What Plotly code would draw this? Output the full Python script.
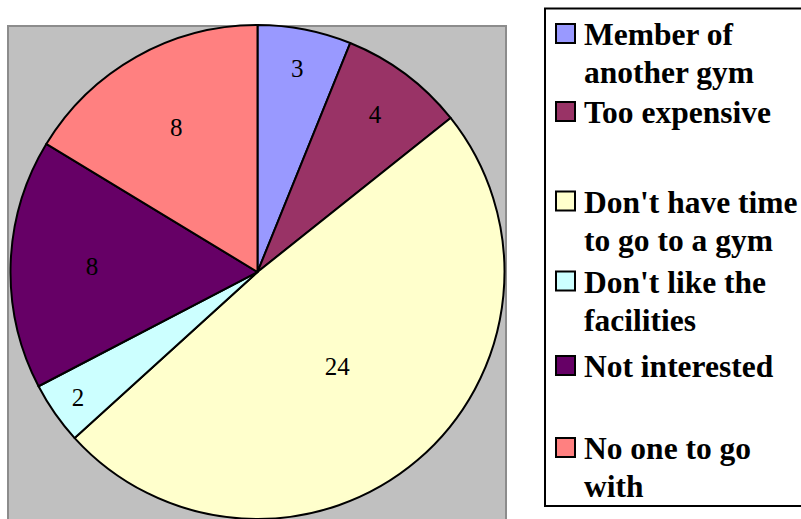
import plotly.graph_objects as go

W, H = 801, 519

categories = [
    "Member of<br>another gym",
    "Too expensive",
    "Don't have time<br>to go to a gym",
    "Don't like the<br>facilities",
    "Not interested",
    "No one to go<br>with",
]
counts = [3, 4, 24, 2, 8, 8]
colors = ["#9999FF", "#993366", "#FFFFCC", "#CCFFFF", "#660066", "#FF8080"]

# legend row centres (pixels from top) for the first line of each entry
legend_rows = [34.5, 112.5, 202, 282, 366.5, 448.5]
legend_line_gap = 38
SERIF = "Liberation Serif"


def px(x):
    return x / W


def py(y):
    return 1 - y / H


fig = go.Figure()
fig.add_trace(go.Pie(
    labels=categories,
    values=counts,
    sort=False,
    direction="clockwise",
    rotation=0,
    marker=dict(colors=colors, line=dict(color="black", width=2)),
    textinfo="value",
    textposition="inside",
    insidetextorientation="horizontal",
    textfont=dict(family=SERIF, size=25, color="black"),
    domain=dict(x=[px(10.5), px(504.5)], y=[0, py(25)]),
    showlegend=False,
    hoverinfo="label+value",
))

shapes = [
    # grey plot area
    dict(type="rect", xref="paper", yref="paper",
         x0=px(8), x1=px(506), y0=-0.05, y1=py(26),
         fillcolor="#C0C0C0", line=dict(color="#8C8C8C", width=2), layer="below"),
    # legend frame
    dict(type="rect", xref="paper", yref="paper",
         x0=px(545), x1=px(815), y0=py(506), y1=py(8.5),
         fillcolor="white", line=dict(color="black", width=2), layer="below"),
]

annotations = []
for label, color, yc in zip(categories, colors, legend_rows):
    shapes.append(dict(
        type="rect", xref="paper", yref="paper",
        x0=px(556), x1=px(575), y0=py(yc + 8.5), y1=py(yc - 10.5),
        fillcolor=color, line=dict(color="black", width=2),
    ))
    for i, line in enumerate(label.split("<br>")):
        annotations.append(dict(
            xref="paper", yref="paper",
            x=px(582), y=py(yc + i * legend_line_gap),
            xanchor="left", yanchor="middle",
            text=line, showarrow=False,
            font=dict(family=SERIF, size=31.5, color="black", weight=700),
        ))

fig.update_layout(
    width=W, height=H,
    margin=dict(l=0, r=0, t=0, b=0),
    paper_bgcolor="white",
    plot_bgcolor="white",
    shapes=shapes,
    annotations=annotations,
)

fig.write_html("out.html")
